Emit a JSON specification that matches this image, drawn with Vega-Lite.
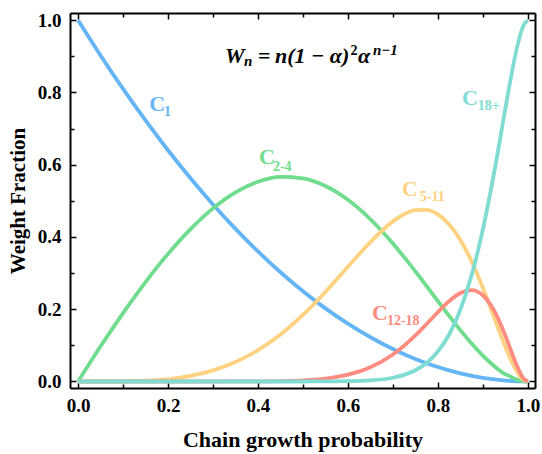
{
  "$schema": "https://vega.github.io/schema/vega-lite/v6.json",
  "width": 465,
  "height": 375,
  "autosize": {"type": "none"},
  "padding": {"left": 70, "top": 13, "right": 7, "bottom": 66},
  "background": "white",
  "config": {
    "view": {"stroke": null},
    "axis": {
      "grid": false,
      "domainColor": "black",
      "domainWidth": 2,
      "tickColor": "black",
      "tickWidth": 1.5,
      "labelFont": "Liberation Serif",
      "labelFontWeight": "bold",
      "labelFontSize": 19,
      "labelColor": "black",
      "titleFont": "Liberation Serif",
      "titleFontWeight": "bold",
      "titleFontSize": 21,
      "titleColor": "black"
    }
  },
  "datasets": {
    "curves": [
      {"a": 0, "C1": 1, "C2-4": 0, "C5-11": 0, "C12-18": 0, "C18+": 0},
      {"a": 0.05, "C1": 0.9025, "C2-4": 0.0975, "C5-11": 0.00003, "C12-18": 0, "C18+": 0},
      {"a": 0.1, "C1": 0.81, "C2-4": 0.1895, "C5-11": 0.0005, "C12-18": 0, "C18+": 0},
      {"a": 0.15, "C1": 0.7225, "C2-4": 0.2753, "C5-11": 0.0022, "C12-18": 0, "C18+": 0},
      {"a": 0.2, "C1": 0.64, "C2-4": 0.3533, "C5-11": 0.0067, "C12-18": 0, "C18+": 0},
      {"a": 0.25, "C1": 0.5625, "C2-4": 0.4219, "C5-11": 0.0156, "C12-18": 0, "C18+": 0},
      {"a": 0.3, "C1": 0.49, "C2-4": 0.4792, "C5-11": 0.0308, "C12-18": 0, "C18+": 0},
      {"a": 0.35, "C1": 0.4225, "C2-4": 0.5235, "C5-11": 0.0539, "C12-18": 0.0001, "C18+": 0},
      {"a": 0.4, "C1": 0.36, "C2-4": 0.553, "C5-11": 0.0867, "C12-18": 0.0003, "C18+": 0},
      {"a": 0.45, "C1": 0.3025, "C2-4": 0.5663, "C5-11": 0.1301, "C12-18": 0.0011, "C18+": 0},
      {"a": 0.5, "C1": 0.25, "C2-4": 0.5625, "C5-11": 0.1843, "C12-18": 0.0031, "C18+": 0.00004},
      {"a": 0.55, "C1": 0.2025, "C2-4": 0.5413, "C5-11": 0.2479, "C12-18": 0.0081, "C18+": 0.0002},
      {"a": 0.6, "C1": 0.16, "C2-4": 0.503, "C5-11": 0.3174, "C12-18": 0.0188, "C18+": 0.0008},
      {"a": 0.65, "C1": 0.1225, "C2-4": 0.4491, "C5-11": 0.386, "C12-18": 0.0393, "C18+": 0.0031},
      {"a": 0.7, "C1": 0.09, "C2-4": 0.3818, "C5-11": 0.4432, "C12-18": 0.0746, "C18+": 0.0104},
      {"a": 0.725, "C1": 0.0756, "C2-4": 0.3442, "C5-11": 0.4631, "C12-18": 0.0989, "C18+": 0.0182},
      {"a": 0.75, "C1": 0.0625, "C2-4": 0.3047, "C5-11": 0.4744, "C12-18": 0.1274, "C18+": 0.031},
      {"a": 0.775, "C1": 0.0506, "C2-4": 0.264, "C5-11": 0.4749, "C12-18": 0.1591, "C18+": 0.0514},
      {"a": 0.8, "C1": 0.04, "C2-4": 0.2227, "C5-11": 0.4624, "C12-18": 0.192, "C18+": 0.0829},
      {"a": 0.825, "C1": 0.0306, "C2-4": 0.1819, "C5-11": 0.4351, "C12-18": 0.2224, "C18+": 0.1301},
      {"a": 0.85, "C1": 0.0225, "C2-4": 0.1423, "C5-11": 0.3918, "C12-18": 0.245, "C18+": 0.1985},
      {"a": 0.875, "C1": 0.0156, "C2-4": 0.1051, "C5-11": 0.3326, "C12-18": 0.2529, "C18+": 0.2938},
      {"a": 0.9, "C1": 0.01, "C2-4": 0.0715, "C5-11": 0.2595, "C12-18": 0.2388, "C18+": 0.4203},
      {"a": 0.925, "C1": 0.0056, "C2-4": 0.0427, "C5-11": 0.1776, "C12-18": 0.1966, "C18+": 0.5776},
      {"a": 0.95, "C1": 0.0025, "C2-4": 0.0201, "C5-11": 0.0958, "C12-18": 0.1269, "C18+": 0.7547},
      {"a": 0.96, "C1": 0.0016, "C2-4": 0.0148, "C5-11": 0.0662, "C12-18": 0.0941, "C18+": 0.8249},
      {"a": 0.975, "C1": 0.0006, "C2-4": 0.0053, "C5-11": 0.029, "C12-18": 0.0458, "C18+": 0.9193},
      {"a": 0.99, "C1": 0.0001, "C2-4": 0.0009, "C5-11": 0.0052, "C12-18": 0.0091, "C18+": 0.9848},
      {"a": 1, "C1": 0, "C2-4": 0, "C5-11": 0, "C12-18": 0, "C18+": 1}
    ],
    "labels": [
      {"series": "C1", "a": 0.1756, "w": 0.7694, "sa": 0.1911, "sw": 0.7472, "sub": "1"},
      {"series": "C2-4", "a": 0.42, "w": 0.6222, "sa": 0.4333, "sw": 0.5944, "sub": "2-4"},
      {"series": "C5-11", "a": 0.7378, "w": 0.5333, "sa": 0.76, "sw": 0.5111, "sub": "5-11"},
      {"series": "C12-18", "a": 0.6711, "w": 0.1889, "sa": 0.6867, "sw": 0.1667, "sub": "12-18"},
      {"series": "C18+", "a": 0.8711, "w": 0.7861, "sa": 0.8889, "sw": 0.7639, "sub": "18+"}
    ],
    "fBig": [
      {"a": 0.3267, "w": 0.8806, "t": "W"},
      {"a": 0.4378, "w": 0.8806, "t": "n(1 − α)"},
      {"a": 0.6222, "w": 0.8806, "t": "α"}
    ],
    "fSmall": [
      {"a": 0.3689, "w": 0.8722, "t": "n"},
      {"a": 0.6556, "w": 0.9028, "t": "n−1"}
    ],
    "fEq": [
      {"a": 0.4, "w": 0.8806, "t": "="}
    ],
    "fSq": [
      {"a": 0.6056, "w": 0.9028, "t": "2"}
    ]
  },
  "resolve": {"axis": {"x": "independent", "y": "independent"}},
  "layer": [
    {
      "data": {"name": "curves"},
      "transform": [{"fold": ["C1", "C2-4", "C5-11", "C12-18", "C18+"], "as": ["series", "value"]}],
      "mark": {"type": "line", "interpolate": "monotone", "strokeWidth": 3.8},
      "encoding": {
        "x": {"field": "a", "type": "quantitative",
          "scale": {"domain": [-0.018, 1.016], "nice": false, "zero": false},
          "axis": {"orient": "bottom", "title": "Chain growth probability",
            "values": [0, 0.1, 0.2, 0.3, 0.4, 0.5, 0.6, 0.7, 0.8, 0.9, 1.0],
            "labelExpr": "round(datum.value*10)%2==0 ? format(datum.value,'.1f') : ''",
            "tickSize": {"condition": {"test": "round(datum.value*10)%2==0", "value": -6}, "value": -4},
            "labelPadding": 14, "titlePadding": 14, "titleFontSize": 22}},
        "y": {"field": "value", "type": "quantitative",
          "scale": {"domain": [-0.018, 1.02], "nice": false, "zero": false},
          "axis": {"orient": "left", "title": "Weight Fraction",
            "values": [0, 0.1, 0.2, 0.3, 0.4, 0.5, 0.6, 0.7, 0.8, 0.9, 1.0],
            "labelExpr": "round(datum.value*10)%2==0 ? format(datum.value,'.1f') : ''",
            "tickSize": {"condition": {"test": "round(datum.value*10)%2==0", "value": -6}, "value": -4},
            "labelPadding": 15, "titlePadding": 9}},
        "color": {"field": "series", "type": "nominal",
          "scale": {"domain": ["C1", "C2-4", "C5-11", "C12-18", "C18+"],
            "range": ["#64b5f6", "#70dc8e", "#ffd281", "#ff8c80", "#7fdcd2"]},
          "legend": null},
        "order": {"field": "series", "sort": "ascending"}
      }
    },
    {
      "data": {"name": "labels"},
      "mark": {"type": "text", "font": "Liberation Serif", "fontWeight": "bold", "fontSize": 22, "align": "center", "baseline": "middle"},
      "encoding": {
        "x": {"field": "a", "type": "quantitative",
          "scale": {"domain": [-0.018, 1.016], "nice": false, "zero": false},
          "axis": {"orient": "top", "title": null, "labels": false,
            "values": [0, 0.1, 0.2, 0.3, 0.4, 0.5, 0.6, 0.7, 0.8, 0.9, 1.0],
            "tickSize": {"condition": {"test": "round(datum.value*10)%2==0", "value": -6}, "value": -4}}},
        "y": {"field": "w", "type": "quantitative",
          "scale": {"domain": [-0.018, 1.02], "nice": false, "zero": false},
          "axis": {"orient": "right", "title": null, "labels": false,
            "values": [0, 0.1, 0.2, 0.3, 0.4, 0.5, 0.6, 0.7, 0.8, 0.9, 1.0],
            "tickSize": {"condition": {"test": "round(datum.value*10)%2==0", "value": -6}, "value": -4}}},
        "text": {"value": "C"},
        "color": {"field": "series", "type": "nominal", "legend": null}
      }
    },
    {
      "data": {"name": "labels"},
      "mark": {"type": "text", "font": "Liberation Serif", "fontWeight": "bold", "fontSize": 14, "align": "left", "baseline": "middle"},
      "encoding": {
        "x": {"field": "sa", "type": "quantitative", "scale": {"domain": [-0.018, 1.016], "nice": false, "zero": false}, "axis": null},
        "y": {"field": "sw", "type": "quantitative", "scale": {"domain": [-0.018, 1.02], "nice": false, "zero": false}, "axis": null},
        "text": {"field": "sub"},
        "color": {"field": "series", "type": "nominal", "legend": null}
      }
    },
    {
      "data": {"name": "fBig"},
      "mark": {"type": "text", "font": "Liberation Serif", "fontWeight": "bold", "fontStyle": "italic", "fontSize": 22, "align": "left", "baseline": "alphabetic", "color": "black"},
      "encoding": {
        "x": {"field": "a", "type": "quantitative", "scale": {"domain": [-0.018, 1.016], "nice": false, "zero": false}, "axis": null},
        "y": {"field": "w", "type": "quantitative", "scale": {"domain": [-0.018, 1.02], "nice": false, "zero": false}, "axis": null},
        "text": {"field": "t"}
      }
    },
    {
      "data": {"name": "fSmall"},
      "mark": {"type": "text", "font": "Liberation Serif", "fontWeight": "bold", "fontStyle": "italic", "fontSize": 15, "align": "left", "baseline": "alphabetic", "color": "black"},
      "encoding": {
        "x": {"field": "a", "type": "quantitative", "scale": {"domain": [-0.018, 1.016], "nice": false, "zero": false}, "axis": null},
        "y": {"field": "w", "type": "quantitative", "scale": {"domain": [-0.018, 1.02], "nice": false, "zero": false}, "axis": null},
        "text": {"field": "t"}
      }
    },
    {
      "data": {"name": "fEq"},
      "mark": {"type": "text", "font": "Liberation Serif", "fontWeight": "bold", "fontSize": 22, "align": "left", "baseline": "alphabetic", "color": "black"},
      "encoding": {
        "x": {"field": "a", "type": "quantitative", "scale": {"domain": [-0.018, 1.016], "nice": false, "zero": false}, "axis": null},
        "y": {"field": "w", "type": "quantitative", "scale": {"domain": [-0.018, 1.02], "nice": false, "zero": false}, "axis": null},
        "text": {"field": "t"}
      }
    },
    {
      "data": {"name": "fSq"},
      "mark": {"type": "text", "font": "Liberation Serif", "fontWeight": "bold", "fontSize": 14, "align": "left", "baseline": "alphabetic", "color": "black"},
      "encoding": {
        "x": {"field": "a", "type": "quantitative", "scale": {"domain": [-0.018, 1.016], "nice": false, "zero": false}, "axis": null},
        "y": {"field": "w", "type": "quantitative", "scale": {"domain": [-0.018, 1.02], "nice": false, "zero": false}, "axis": null},
        "text": {"field": "t"}
      }
    }
  ]
}
